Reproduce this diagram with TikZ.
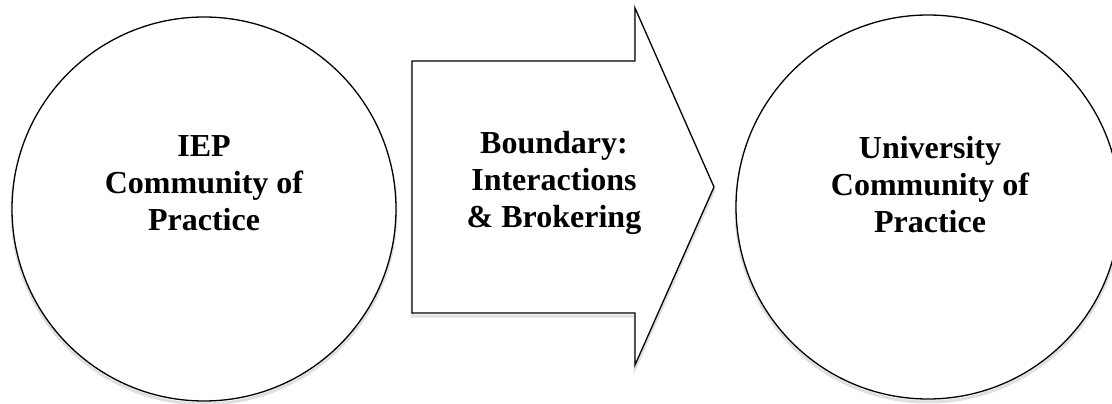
\documentclass[tikz,border=0pt]{standalone}
\usepackage{fontspec}
\setmainfont{Liberation Serif}
\begin{document}
\begin{tikzpicture}[x=1pt,y=-1pt,
  shape line/.style={draw=black,line width=1.3pt,fill=white,line join=miter},
  shadowline/.style={draw=black!12,line width=3pt},
  label text/.style={align=center,font=\fontsize{32}{37}\selectfont\bfseries,inner sep=0pt}]
\useasboundingbox (0,0) rectangle (1112,404);
\fill[white] (0,0) rectangle (1112,404);
% shadows
\draw[shadowline] (204,212) circle[radius=192];
\draw[shadowline] (928,210) circle[radius=192];
\draw[shadowline] (412,64) -- (635,64) -- (635,11) -- (714,190) -- (635,368) -- (635,316) -- (412,316) -- cycle;
% shapes
\draw[shape line] (204,209) circle[radius=192];
\draw[shape line] (928,207) circle[radius=192];
\draw[shape line] (412,61) -- (635,61) -- (635,8) -- (714,187) -- (635,365) -- (635,313) -- (412,313) -- cycle;
% labels
\node[label text] (iep) at (204,183.5) {IEP\\Community of\\Practice};
\node[label text] (bnd) at (554,183) {Boundary:\\Interactions\\\& Brokering};
\node[label text] (uni) at (930,184.7) {University\\Community of\\Practice};
\end{tikzpicture}
\end{document}
